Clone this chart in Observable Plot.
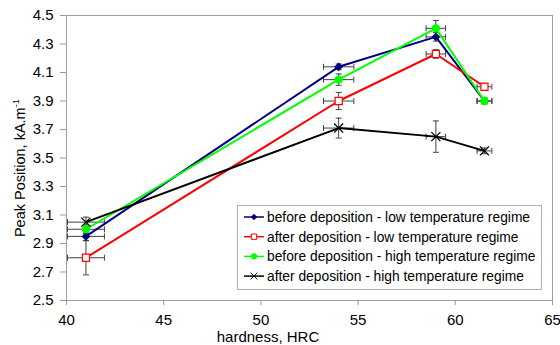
<!DOCTYPE html>
<html><head><meta charset="utf-8">
<script src="https://cdn.jsdelivr.net/npm/d3@7"></script>
<script src="https://cdn.jsdelivr.net/npm/@observablehq/plot@0.6"></script>
<style>
body{margin:0;background:#fff;font-family:"Liberation Sans",Arial,sans-serif}
#wrap{position:relative;width:560px;height:345px}
#ov{position:absolute;left:0;top:0;pointer-events:none}
</style>
</head><body><div id="wrap"></div>
<script>
// ---- data ----
const hardness = [41, 54, 59, 61.5];
const seriesNames = [
  "before deposition - low temperature regime",
  "after deposition - low temperature regime",
  "before deposition - high temperature regime",
  "after deposition - high temperature regime"
];
const beforeLow  = [2.95, 4.14, 4.35, 3.90];
const afterLow   = [2.80, 3.90, 4.23, 4.00];
const beforeHigh = [3.00, 4.05, 4.41, 3.90];
const afterHigh  = [3.05, 3.71, 3.65, 3.55];
const yErrBeforeLow  = [0.03, 0.02, 0.03, 0.02];
const yErrAfterLow   = [0.12, 0.06, 0.03, 0.02];
const yErrBeforeHigh = [0.03, 0.04, 0.055, 0.02];
const yErrAfterHigh  = [0.035, 0.07, 0.11, 0.02];
const xErr = [0.95, 0.78, 0.5, 0.38];
const xTicks = [40, 45, 50, 55, 60, 65];
const yTicks = [2.5, 2.7, 2.9, 3.1, 3.3, 3.5, 3.7, 3.9, 4.1, 4.3, 4.5];
const xTitle = "hardness, HRC";
const yTitle = "Peak Position, kA.m";
const yTitleSup = "-1";

// ---- styles ----
const styles = [
  {stroke: "#000080", symbol: "diamond2", fill: "#000080", r: 3.2},
  {stroke: "#ff0000", symbol: "square", fill: "#ffffff", r: 4},
  {stroke: "#00ff00", symbol: "circle", fill: "#00ff00", r: 3.6},
  {stroke: "#000000", symbol: "times", fill: "none", r: 4.2}
];
const seriesValues = [beforeLow, afterLow, beforeHigh, afterHigh];
const seriesErr = [yErrBeforeLow, yErrAfterLow, yErrBeforeHigh, yErrAfterHigh];

const rowsFor = (i) => hardness.map((h, j) => ({
  x: h, y: seriesValues[i][j], ey: seriesErr[i][j], ex: xErr[j], s: seriesNames[i]
}));

const hCap = {draw(ctx) { ctx.moveTo(-3, 0); ctx.lineTo(3, 0); }};
const vCap = {draw(ctx) { ctx.moveTo(0, -3); ctx.lineTo(0, 3); }};
const errColor = "#404040";

const marks = [
  Plot.frame({stroke: "#a0a0a0"}),
  Plot.axisX({ticks: xTicks, tickSize: 5, tickPadding: 9, stroke: "#999", fill: "#000", fontSize: 15, label: null}),
  Plot.axisY({ticks: yTicks, tickFormat: d3.format(".1f"), tickSize: 6, tickPadding: 7, stroke: "#999", fill: "#000", fontSize: 15, label: null})
];
seriesNames.forEach((name, i) => {
  const rows = rowsFor(i);
  marks.push(
    Plot.ruleX(rows, {x: "x", y1: d => d.y - d.ey, y2: d => d.y + d.ey, stroke: errColor, strokeWidth: 1}),
    Plot.ruleY(rows, {y: "y", x1: d => d.x - d.ex, x2: d => d.x + d.ex, stroke: errColor, strokeWidth: 1}),
    Plot.dot(rows, {x: "x", y: d => d.y - d.ey, symbol: hCap, stroke: errColor, strokeWidth: 1, r: 3}),
    Plot.dot(rows, {x: "x", y: d => d.y + d.ey, symbol: hCap, stroke: errColor, strokeWidth: 1, r: 3}),
    Plot.dot(rows, {x: d => d.x - d.ex, y: "y", symbol: vCap, stroke: errColor, strokeWidth: 1, r: 3}),
    Plot.dot(rows, {x: d => d.x + d.ex, y: "y", symbol: vCap, stroke: errColor, strokeWidth: 1, r: 3})
  );
});
seriesNames.forEach((name, i) => {
  const rows = rowsFor(i);
  const st = styles[i];
  marks.push(
    Plot.line(rows, {x: "x", y: "y", stroke: st.stroke, strokeWidth: 2}),
    Plot.dot(rows, {x: "x", y: "y", symbol: st.symbol, r: st.r, fill: st.fill,
      stroke: st.stroke, strokeWidth: st.symbol === "times" ? 1.3 : 1.2})
  );
});

const chart = Plot.plot({
  width: 560, height: 345,
  marginLeft: 66, marginRight: 8, marginTop: 15, marginBottom: 45,
  style: {fontFamily: '"Liberation Sans", Arial, sans-serif', fontSize: "15px", background: "#fff"},
  x: {domain: [40, 65]},
  y: {domain: [2.5, 4.5]},
  marks
});
const wrap = document.getElementById("wrap");
wrap.appendChild(chart);

// ---- overlay: axis titles and legend ----
const ov = d3.select(wrap).append("svg").attr("id", "ov")
  .attr("width", 560).attr("height", 345)
  .style("font-family", '"Liberation Sans", Arial, sans-serif');

ov.append("text").attr("x", 268).attr("y", 341.5).attr("text-anchor", "middle")
  .attr("font-size", 15).attr("fill", "#000").text(xTitle);

const yt = ov.append("text").attr("transform", "translate(25,168) rotate(-90)")
  .attr("text-anchor", "middle").attr("font-size", 14.5).attr("fill", "#000");
yt.append("tspan").text(yTitle);
yt.append("tspan").attr("dy", -6).attr("font-size", 9.5).text(yTitleSup);

const lg = ov.append("g");
lg.append("rect").attr("x", 237.5).attr("y", 205.5).attr("width", 304).attr("height", 84)
  .attr("fill", "#fff").attr("stroke", "#b0b0b0");
seriesNames.forEach((name, i) => {
  const st = styles[i];
  const cy = 217 + i * 19.7;
  lg.append("line").attr("x1", 244).attr("x2", 264).attr("y1", cy).attr("y2", cy)
    .attr("stroke", st.stroke).attr("stroke-width", 1.5);
  const symMap = {diamond2: d3.symbolDiamond2, square: d3.symbolSquare, circle: d3.symbolCircle, times: d3.symbolTimes};
  const rr = st.r * 0.75;
  lg.append("path").attr("transform", `translate(254,${cy})`)
    .attr("d", d3.symbol(symMap[st.symbol], rr * rr * Math.PI)())
    .attr("fill", st.fill).attr("stroke", st.stroke).attr("stroke-width", 1);
  lg.append("text").attr("x", 267).attr("y", cy + 5).attr("font-size", 13.8)
    .attr("fill", "#000").text(name);
});
</script>
</body></html>
